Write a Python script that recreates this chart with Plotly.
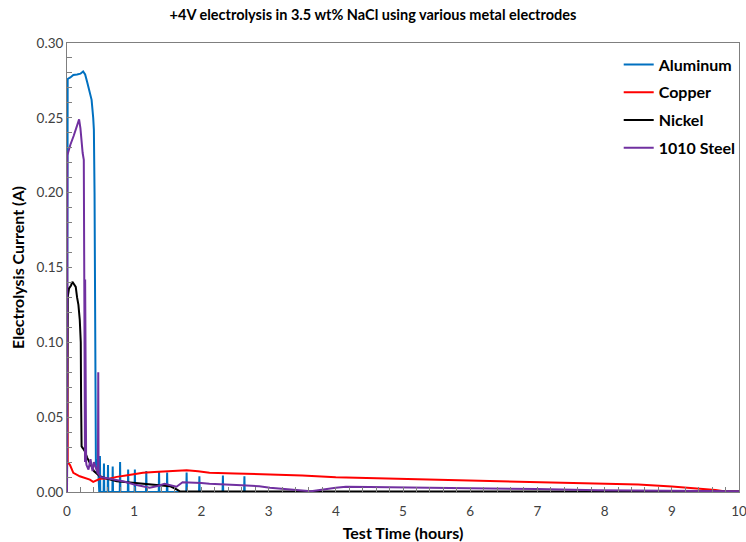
import plotly.graph_objects as go

# ---------------- data ----------------
al_t = [0.0, 0.01, 0.05, 0.094, 0.15, 0.20, 0.24, 0.27, 0.30, 0.316, 0.34, 0.366, 0.39, 0.40, 0.41, 0.415, 0.42,
        0.43, 0.44, 0.45, 0.46, 0.47, 0.48,
        0.485, 0.49, 0.495, 0.545, 0.55, 0.555, 0.605, 0.61, 0.615, 0.675, 0.68, 0.685,
        0.785, 0.79, 0.795, 0.905, 0.91, 0.915, 1.005, 1.01, 1.015, 1.175, 1.18, 1.185,
        1.365, 1.37, 1.375, 1.485, 1.49, 1.495, 1.775, 1.78, 1.785, 1.965, 1.97, 1.975,
        2.315, 2.32, 2.325, 2.635, 2.64, 2.645, 10.0]
al_i = [0.0, 0.276, 0.277, 0.2786, 0.279, 0.2795, 0.281, 0.279, 0.274, 0.271, 0.267, 0.262, 0.25, 0.242, 0.2, 0.1, 0.03,
        0.018, 0.022, 0.012, 0.02, 0.005, 0.0,
        0.0, 0.024, 0.0, 0.0, 0.019, 0.0, 0.0, 0.018, 0.0, 0.0, 0.017, 0.0,
        0.0, 0.020, 0.0, 0.0, 0.015, 0.0, 0.0, 0.015, 0.0, 0.0, 0.014, 0.0,
        0.0, 0.014, 0.0, 0.0, 0.013, 0.0, 0.0, 0.013, 0.0, 0.0, 0.0105, 0.0,
        0.0, 0.011, 0.0, 0.0, 0.0105, 0.0, 0.0]

cu_t = [0.0, 0.01, 0.045, 0.094, 0.19, 0.34, 0.39, 0.49, 0.64, 0.74, 0.9, 1.13, 1.3, 1.5, 1.65, 1.78, 1.95,
        2.12, 2.5, 2.86, 3.5, 4.0, 4.5, 5.0, 5.5, 6.0, 6.5, 7.0, 7.5, 8.0, 8.5, 9.0, 9.3, 9.65, 9.8, 10.0]
cu_i = [0.163, 0.02, 0.018, 0.0128, 0.0105, 0.0083, 0.0068, 0.0088, 0.009, 0.0101, 0.0112, 0.0128, 0.0134, 0.0138,
        0.0143, 0.0146, 0.0138, 0.0128, 0.0124, 0.0121, 0.0111, 0.0098, 0.0093, 0.0087, 0.0083, 0.0080, 0.0075,
        0.0069, 0.0063, 0.0058, 0.0050, 0.0036, 0.0027, 0.0013, 0.0004, 0.0003]

ni_t = [0.0, 0.01, 0.03, 0.06, 0.08, 0.10, 0.13, 0.15, 0.17, 0.19, 0.205, 0.21, 0.217, 0.24, 0.267, 0.30, 0.341,
        0.40, 0.49, 0.6, 0.74, 0.85, 1.0, 1.13, 1.3, 1.53, 1.6, 1.68, 1.8, 10.0]
ni_i = [0.0, 0.13, 0.136, 0.138, 0.1405, 0.139, 0.137, 0.13, 0.125, 0.115, 0.10, 0.06, 0.0305, 0.029, 0.027, 0.023,
        0.0195, 0.014, 0.0105, 0.0088, 0.0072, 0.0068, 0.006, 0.0055, 0.0048, 0.0039, 0.0025, 0.0005, 0.0003, 0.0003]

st_t = [0.0, 0.005, 0.02, 0.05, 0.10, 0.15, 0.18, 0.20, 0.22, 0.233, 0.25, 0.262, 0.268, 0.27, 0.274, 0.28, 0.285,
        0.29, 0.32, 0.35, 0.38, 0.40, 0.43, 0.46, 0.465, 0.47, 0.5, 0.64, 0.7, 0.85, 1.0, 1.23, 1.35, 1.45, 1.63,
        1.72, 2.0, 2.12, 2.6, 2.86, 3.02, 3.2, 3.38, 3.63, 4.0, 4.15, 4.5, 5.0, 6.2, 7.0, 7.9, 9.0, 10.0]
st_i = [0.0, 0.225, 0.2273, 0.232, 0.238, 0.245, 0.249, 0.243, 0.232, 0.2265, 0.222, 0.12, 0.02, 0.142, 0.03, 0.09,
        0.02, 0.018, 0.015, 0.022, 0.014, 0.02, 0.016, 0.012, 0.08, 0.012, 0.010, 0.0088, 0.0085, 0.007, 0.005,
        0.0028, 0.004, 0.0055, 0.0035, 0.0065, 0.006, 0.0055, 0.0045, 0.0039, 0.0028, 0.002, 0.0012, 0.0005,
        0.0028, 0.0035, 0.0034, 0.0032, 0.0025, 0.002, 0.0012, 0.001, 0.0005]

names = ["Aluminum", "Copper", "Nickel", "1010 Steel"]
colors = ["#0070C0", "#FF0000", "#000000", "#7030A0"]

FONT = "Lato"

fig = go.Figure()
series = [(al_t, al_i), (cu_t, cu_i), (ni_t, ni_i), (st_t, st_i)]
for k in [0, 1, 2, 3]:
    t, i = series[k]
    fig.add_trace(go.Scatter(x=t, y=i, mode="lines", name="<b>" + names[k] + "</b>",
                             line=dict(color=colors[k], width=2),
                             legendgroup=names[k], legendrank=k))

fig.update_layout(
    width=746, height=542,
    margin=dict(l=67, r=5, t=43, b=50),
    paper_bgcolor="white", plot_bgcolor="white",
    font=dict(family=FONT, color="#000000"),
    title=dict(text="<b>+4V electrolysis in 3.5 wt% NaCl using various metal electrodes</b>",
               x=0.5, xanchor="center", y=0.972, yanchor="middle",
               font=dict(size=14.5, family=FONT, color="#000000")),
    showlegend=True,
    legend=dict(x=0.821, y=0.99, xanchor="left", yanchor="top",
                bgcolor="rgba(0,0,0,0)", font=dict(size=16, family=FONT, color="#000000"),
                traceorder="grouped", tracegroupgap=4, itemwidth=30),
)

axis_common = dict(showline=True, linecolor="#7f7f7f", linewidth=1, mirror=True,
                   showgrid=False, zeroline=False, ticks="inside", ticklen=5, automargin=False,
                   tickcolor="#7f7f7f", tickfont=dict(size=13.5, family=FONT, color="#404040"))

fig.update_xaxes(range=[0, 10], dtick=1, tick0=0, **axis_common, ticklabeloverflow="allow",
                 ticklabelstandoff=7,
                 minor=dict(dtick=0.2, ticks="inside", ticklen=5, tickcolor="#7f7f7f"),
                 title=dict(text="<b>Test Time (hours)</b>", font=dict(size=16, family=FONT, color="#000000"),
                            standoff=10))
fig.update_yaxes(range=[0, 0.30], dtick=0.05, tick0=0, tickformat=".2f", **axis_common,
                 minor=dict(dtick=0.01, ticks="inside", ticklen=5, tickcolor="#7f7f7f"),
                 title=dict(text="<b>Electrolysis Current (A)</b>", font=dict(size=16, family=FONT, color="#000000"),
                            standoff=8))

fig.write_html("out.html")
